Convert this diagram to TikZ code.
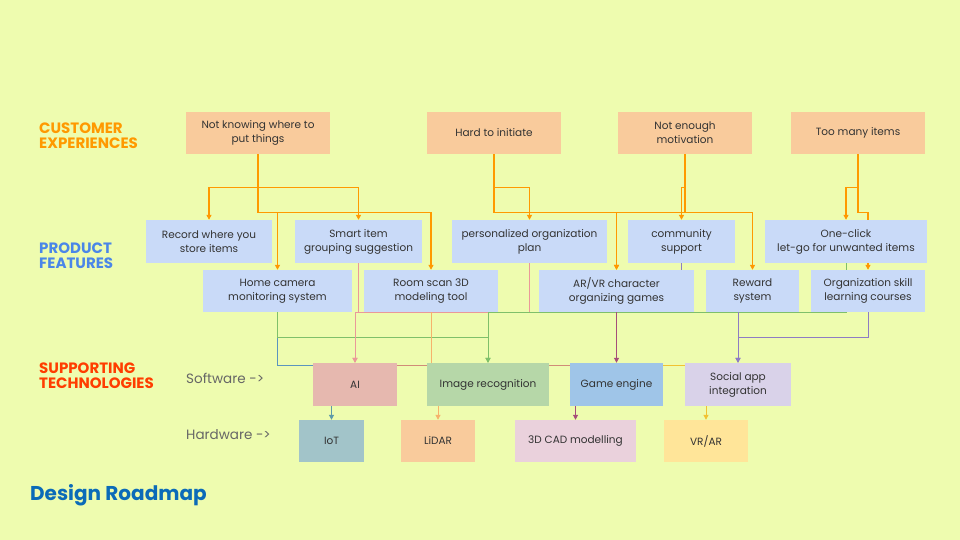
\documentclass[tikz,border=0pt]{standalone}
\usepackage{fontspec}
\setmainfont{Poppins}
\usetikzlibrary{arrows.meta}
\definecolor{bgc}{HTML}{EEFCAF}
\definecolor{cfill}{HTML}{F9CB9C}
\definecolor{pfill}{HTML}{C9DAF8}
\definecolor{aifill}{HTML}{E6B8AF}
\definecolor{irfill}{HTML}{B6D7A8}
\definecolor{gefill}{HTML}{9FC5E8}
\definecolor{safill}{HTML}{D9D2E9}
\definecolor{iotfill}{HTML}{A2C4C9}
\definecolor{cadfill}{HTML}{EAD1DC}
\definecolor{vrfill}{HTML}{FFE599}
\definecolor{oline}{HTML}{FF9900}
\definecolor{tealline}{HTML}{5B95BE}
\definecolor{greenline}{HTML}{7FC06A}
\definecolor{pinkline}{HTML}{EA9999}
\definecolor{peachline}{HTML}{F6B26B}
\definecolor{mauveline}{HTML}{A64D79}
\definecolor{purpleline}{HTML}{8E7CC3}
\definecolor{iotline}{HTML}{5E9AA8}
\definecolor{brownline}{HTML}{D08C78}
\definecolor{yline}{HTML}{F1C232}
\definecolor{txt}{HTML}{333333}
\definecolor{hcust}{HTML}{FF9900}
\definecolor{hprod}{HTML}{4A86E8}
\definecolor{htech}{HTML}{FF3D00}
\definecolor{htitle}{HTML}{0B6BB8}
\definecolor{grayt}{HTML}{666666}
\pgfdeclarelayer{bg}
\pgfdeclarelayer{edges}
\pgfsetlayers{bg,edges,main}
\tikzset{
  box/.style={rectangle, inner sep=0pt, align=center, text=txt,
    font=\fontsize{10.5}{14}\selectfont},
  cbox/.style={box, fill=cfill},
  pbox/.style={box, fill=pfill},
  head/.style={anchor=west, align=left, inner sep=0pt, font=\fontsize{15}{15}\selectfont\bfseries},
  sidelbl/.style={anchor=west, inner sep=0pt, text=grayt, font=\fontsize{13.5}{15}\selectfont},
  tip/.style={-{Triangle[width=5pt,length=5pt]}},
  oarr/.style={tip, draw=oline, line width=1.2pt},
  thin/.style={line width=1pt},
}
\begin{document}
\begin{tikzpicture}[x=1pt,y=-1pt]
\begin{pgfonlayer}{bg}
\fill[bgc] (0,0) rectangle (960,540);
\end{pgfonlayer}
\useasboundingbox (0,0) rectangle (960,540);

% headings
\node[head, text=hcust] (hc) at (39,135.5) {CUSTOMER\\EXPERIENCES};
\node[head, text=hprod] (hp) at (39,256) {PRODUCT\\FEATURES};
\node[head, text=htech] (ht) at (39,375.5) {SUPPORTING\\TECHNOLOGIES};
\node[sidelbl] (sw) at (186,378) {Software ->};
\node[sidelbl] (hw) at (186,435) {Hardware ->};
\node[anchor=west, inner sep=0pt, text=htitle, font=\fontsize{20}{22}\selectfont\bfseries] (title) at (30,495) {Design Roadmap};

% customer experiences
\node[cbox, minimum width=144, minimum height=42] (C1) at (258,133) {Not knowing where to\\put things};
\node[cbox, minimum width=134, minimum height=42] (C2) at (494,133) {Hard to initiate};
\node[cbox, minimum width=134, minimum height=42] (C3) at (685,133) {Not enough\\motivation};
\node[cbox, minimum width=134, minimum height=42] (C4) at (858,133) {Too many items};

% product features row 1
\node[pbox, minimum width=126, minimum height=43] (P1) at (209,241.5) {Record where you\\store items};
\node[pbox, minimum width=127, minimum height=43] (P2) at (358.5,241.5) {Smart item\\grouping suggestion};
\node[pbox, minimum width=155, minimum height=43] (P3) at (529.5,241.5) {personalized organization\\plan};
\node[pbox, minimum width=107, minimum height=43] (P4) at (681.5,241.5) {community\\support};
\node[pbox, minimum width=162, minimum height=43] (P5) at (846,241.5) {One-click\\let-go for unwanted items};
% row 2
\node[pbox, minimum width=149, minimum height=42] (P6) at (277.5,291) {Home camera\\monitoring system};
\node[pbox, minimum width=134, minimum height=42] (P7) at (431,291) {Room scan 3D\\modeling tool};
\node[pbox, minimum width=155, minimum height=42] (P8) at (616.5,291) {AR/VR character\\organizing games};
\node[pbox, minimum width=93, minimum height=42] (P9) at (752.5,291) {Reward\\system};
\node[pbox, minimum width=114, minimum height=42] (P10) at (868,291) {Organization skill\\learning courses};

% software
\node[box, fill=aifill, minimum width=84, minimum height=43] (AI) at (355,384.5) {AI};
\node[box, fill=irfill, minimum width=122, minimum height=43] (IR) at (488,384.5) {Image recognition};
\node[box, fill=gefill, minimum width=93, minimum height=43] (GE) at (616.5,384.5) {Game engine};
\node[box, fill=safill, minimum width=106, minimum height=43] (SA) at (738,384.5) {Social app\\integration};
% hardware
\node[box, fill=iotfill, minimum width=65, minimum height=42] (IoT) at (331.5,441) {IoT};
\node[box, fill=cfill, minimum width=74, minimum height=42] (LiDAR) at (438,441) {LiDAR};
\node[box, fill=cadfill, minimum width=121, minimum height=42] (CAD) at (575.5,441) {3D CAD modelling};
\node[box, fill=vrfill, minimum width=84, minimum height=42] (VRAR) at (706,441) {VR/AR};

\begin{pgfonlayer}{edges}
% orange connectors
\draw[oarr] (C1.south) -- ++(0,33) -| (P1.north);
\draw[oarr] (C1.south) -- ++(0,33) -| (P2.north);
\draw[oarr] (C1.south) -- ++(0,58) -| (P6.north);
\draw[oarr] (C1.south) -- ++(0,58) -| (P7.north);
\draw[oarr] (C2.south) -- ++(0,33) -| (P3.north);
\draw[oarr] (C2.south) -- ++(0,58) -| (P8.north);
\draw[oarr] (C3.south) -- ++(0,33) -| (P4.north);
\draw[oarr] (C3.south) -- ++(0,58) -| (P8.north);
\draw[oarr] (C3.south) -- ++(0,58) -| (P9.north);
\draw[oarr] (C4.south) -- ++(0,33) -| (P5.north);
\draw[oarr] (C4.south) -- ++(0,58) -| (P10.north);

% features to technologies
\draw[thin, tealline] (P6.south) |- ([yshift=-3pt]AI.north west);
\draw[thin, greenline, tip] (P6.south) -- ++(0,25) -| (IR.north);
\draw[thin, pinkline, tip] (P2.south) -- (P2.south |- P7.south) -| (AI.north);
\draw[thin, pinkline, tip] (P3.south) -- (P3.south |- P7.south) -| (AI.north);
\draw[thin, peachline, tip] (P7.south) -- ++(0,80) -| (LiDAR.north);
\draw[thin, greenline, tip] (P5.south) -- (P5.south |- P10.south) -| (IR.north);
\draw[thin, purpleline] (P4.south) -- ++(0,15);
\draw[thin, mauveline, tip] (P8.south) -- (GE.north);
\draw[thin, purpleline, tip] (SA.north |- P9.south) -- (SA.north);
\draw[thin, purpleline, tip] (P10.south) -- ++(0,25) -| (SA.north);

% between technologies
\draw[thin, brownline] ([yshift=-3pt]AI.north east) -- ([yshift=-3pt]GE.north west);
\draw[thin, yline] ([yshift=-3pt]GE.north east) -- ([yshift=-3pt]SA.north west);
\draw[thin, iotline, tip] (IoT.north |- AI.south) -- (IoT.north);
\draw[thin, mauveline, tip] (CAD.north |- GE.south) -- (CAD.north);
\draw[thin, yline, tip] (VRAR.north |- SA.south) -- (VRAR.north);
\end{pgfonlayer}
\end{tikzpicture}
\end{document}
